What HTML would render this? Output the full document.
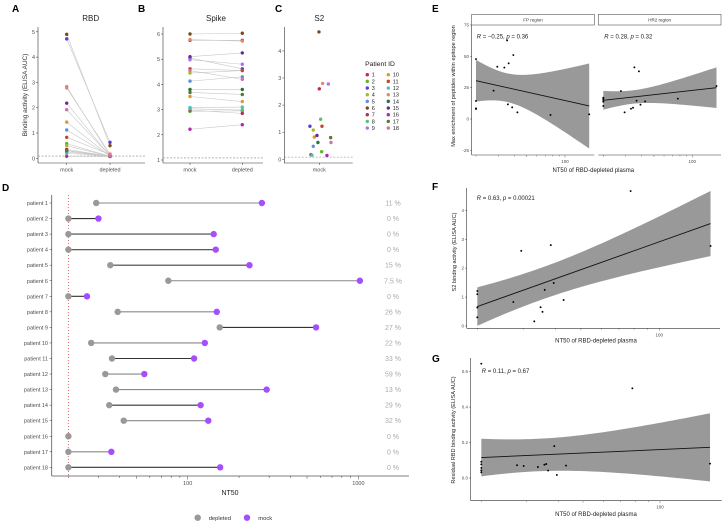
<!DOCTYPE html>
<html><head><meta charset="utf-8"><style>
body{margin:0;background:#fff}
svg{display:block;font-family:"Liberation Sans",sans-serif}
</style></head><body>
<svg id="fig" width="724" height="524" viewBox="0 0 724 524"></svg>
<script>
// ---------- DATA ----------
const patients=["1","2","3","4","5","6","7","8","9","10","11","12","13","14","15","16","17","18"];
const pColors=["#cc2255","#66b032","#5a3fd6","#a8b82a","#5b8fdf","#7a4a1a","#b0305a","#5cc06a","#b070f0","#d99a2a","#c0462a","#4fc0b0","#e08a6a","#2f6f3f","#6a2a90","#b02ab0","#5a7a2a","#d070b0"];
const rbdMock=[0.3,0.58,4.72,0.5,1.12,4.9,0.35,0.25,2.83,1.43,0.83,0.2,2.78,0.3,2.18,0.08,0.3,1.92];
const rbdDep=[0.08,0.08,0.63,0.08,0.1,0.5,0.08,0.08,0.1,0.08,0.15,0.08,0.17,0.08,0.08,0.07,0.08,0.1];
const spikeMock=[5.75,2.93,5.05,4.45,4.13,6.0,2.98,3.03,4.98,3.52,4.62,3.08,5.78,3.8,5.1,2.22,3.68,4.55];
const spikeDep=[5.75,2.95,4.62,4.55,4.3,6.03,2.85,2.98,4.8,3.32,4.55,3.1,5.72,3.8,5.25,2.4,3.6,4.2];
const s2Vals=[2.6,0.28,1.22,1.08,0.48,4.7,0.17,1.48,2.78,0.82,1.22,0.15,2.8,0.62,0.88,0.14,0.8,0.62];
const s2Jitter=[0,0.034,-0.137,-0.088,-0.088,-0.005,-0.122,0.02,0.132,-0.073,0.039,-0.107,0.049,-0.02,-0.034,0.112,0.166,0.171];
const aTicks=[0,1,2,3,4,5];
const bTicks=[1,2,3,4,5,6];
const cTicks=[0,1,2,3,4];
const ntDep=[29.1,20,20,20,35.2,77,20,38.9,154,27.2,36,32.9,38,34.7,42.2,20,20,20];
const ntMock=[272,30,142,146,230,1020,25.7,148,565,126,109,55.7,290,119,132,null,35.7,155];
const pctLabels=["11 %","0 %","0 %","0 %","15 %","7.5 %","0 %","26 %","27 %","22 %","33 %","59 %","13 %","29 %","32 %","0 %","0 %","0 %"];
const fpX=[20,20,20,20,27.5,29.4,33.4,35.1,36.1,39.3,35.6,38.5,42.3,77,155];
const fpY=[47.8,14.4,8.5,8,22.6,41.7,41,62.7,44.4,51,11.7,9.3,5.3,3.2,3.7];
const hrX=[20,20,20,20,20,27.5,29.4,35.1,38.1,36.5,33,34.2,39.2,42.6,77,155];
const hrY=[10.4,16.2,17,15.2,13.8,22.3,5.3,41.2,38,14.6,8.2,9.0,11.4,14.1,16.2,26.3];
const eTicks=[75,50,25,0,-25];
const fX=[20,20,20,20,27.5,29.5,38.3,39.3,36.3,35,35.6,33.1,42.9,77.6,157.3];
const fY=[1.21,1.1,0.64,0.3,0.83,2.6,2.8,1.49,1.25,0.65,0.49,0.16,0.9,4.67,2.77];
const fTicks=[0,1,2,3,4];
const gX=[20,20,20,20,20,20,27.6,29.3,33.3,35.3,35.9,36.5,38.6,39.5,42.9,78,157];
const gY=[0.645,0.092,0.077,0.057,0.043,0.032,0.072,0.068,0.062,0.075,0.079,0.042,0.18,0.017,0.07,0.506,0.081];
const gTicks=[0,0.2,0.4,0.6];

// ---------- HELPERS ----------
const NS="http://www.w3.org/2000/svg";
const svg=document.getElementById('fig');
function mk(tag,attrs,parent){const e=document.createElementNS(NS,tag);for(const k in attrs)e.setAttribute(k,attrs[k]);(parent||svg).appendChild(e);return e;}
function txt(x,y,s,size,anchor,fill,parent,extra){const t=mk('text',Object.assign({x:x,y:y,'font-size':size,'text-anchor':anchor||'start',fill:fill||'#333'},extra||{}),parent);t.textContent=s;return t;}
function grp(parent){return mk('g',{},parent);}
function line(x1,y1,x2,y2,stroke,w,parent,dash){const a={x1:x1,y1:y1,x2:x2,y2:y2,stroke:stroke,'stroke-width':w};if(dash)a['stroke-dasharray']=dash;return mk('line',a,parent);}
const L10=Math.log10;

// ---------- PANELS A-C ----------
function pairPanel(name,letter,lx,title,tx,axX,axR,yFn,ticks,xM,xD,mock,dep,dashV){
  const g=grp();
  
  
  const lt=txt(lx,12,letter,10,'start','#000',g,{'font-weight':'bold'});
  
  
  const tt=txt(tx,21,title,8,'middle','#222',g);
  
  
  line(axX,27,axX,163,'#333',0.6,g);
  line(axX,163,axR,163,'#333',0.6,g);
  ticks.forEach(v=>{line(axX-2,yFn(v),axX,yFn(v),'#333',0.5,g);
    const l=txt(axX-3,yFn(v)+2,String(v),5.5,'end','#4d4d4d',g);
    
    });
  line(axX,yFn(dashV),axR,yFn(dashV),'#888',0.6,g,'2,1.5');
  [[xM,'mock'],[xD,'depleted']].forEach(([x,s])=>{if(x==null)return;line(x,163,x,165,'#333',0.5,g);
    const l=txt(x,171.5,s,5.5,'middle','#4d4d4d',g);
    
    });
  if(dep){mock.forEach((v,i)=>{const ln=line(xM,yFn(v),xD,yFn(dep[i]),'#c8c8c8',0.6,g);
    
    });}
  mock.forEach((v,i)=>{const c=mk('circle',{cx:xM,cy:yFn(v),r:1.7,fill:pColors[i]},g);
    
    
    if(dep){const d=mk('circle',{cx:xD,cy:yFn(dep[i]),r:1.7,fill:pColors[i]},g);
    
    }});
  return g;
}
const aY=v=>158.3-v*25.3;
pairPanel('panel-a-rbd','A',12,'RBD',90.7,38,145,aY,aTicks,66.7,110,rbdMock,rbdDep,0.09);
const at=txt(0,0,'Binding activity (ELISA AUC)',6.5,'middle','#333',svg,{transform:'translate(27,95) rotate(-90)'});


const bY=v=>160-(v-1)*25.2;
pairPanel('panel-b-spike','B',138,'Spike',216,163,263,bY,bTicks,190,242.3,spikeMock,spikeDep,1.08);
const cY=v=>159.3-v*27.1;
const gc=pairPanel('panel-c-s2','C',275,'S2',319.3,284.3,352.7,cY,cTicks,319.3,null,[],null,0.08);
s2Vals.forEach((v,i)=>{const c=mk('circle',{cx:319.3+s2Jitter[i]*68.4,cy:cY(v),r:1.7,fill:pColors[i]},gc);
  
  });
const lg=grp();


const lgT=txt(380,66,'Patient ID',6.8,'middle','#222',lg);


patients.forEach((p,i)=>{const col=i<9?0:1,row=i%9;const cx=367.3+col*21,cy=74.7+row*6.67;
  const c=mk('circle',{cx:cx,cy:cy,r:1.7,fill:pColors[i]},lg);
  
  
  const t=txt(cx+4.5,cy+2,p,5.5,'start','#222',lg);
  
  });

// ---------- PANEL D ----------
const gd=grp();


const dl=txt(2,191,'D',10,'start','#000',gd,{'font-weight':'bold'});


const dX=v=>187.7+170.7*L10(v/100);
const dY=i=>203+i*15.55;
line(51.7,195,51.7,476,'#555',0.8,gd);
line(51.7,476,409,476,'#555',0.8,gd);
[20,30,40,50,60,70,80,90,100,200,300,400,500,600,700,800,900,1000].forEach(v=>{
  const m=Math.round(v/Math.pow(10,Math.floor(L10(v)+1e-9)));const len=m===1?3.5:(m===5?2.8:2);
  line(dX(v),476,dX(v),476+len,'#444',0.5,gd);});
[100,1000].forEach(v=>{const t=txt(dX(v),485,String(v),5.5,'middle','#4d4d4d',gd);
  
  });
const dxt=txt(230,495,'NT50',7,'middle','#222',gd);


const lod=line(dX(20),195,dX(20),476,'#e05a5a',0.9,gd,'1,2');


const segShade=['#888','#333','#444','#444','#444','#888','#333','#888','#333','#888','#333','#888','#888','#333','#888','#888','#888','#333'];
patients.forEach((p,i)=>{const y=dY(i);
  line(49.5,y,51.7,y,'#444',0.5,gd);
  const pl=txt(48,y+2,'patient '+p,5.5,'end','#4d4d4d',gd);
  
  
  if(ntMock[i]!=null){const s=line(dX(ntDep[i]),y,dX(ntMock[i]),y,segShade[i],1.1,gd);
    
    }
  const c1=mk('circle',{cx:dX(ntDep[i]),cy:y,r:3.2,fill:'#999'},gd);
  
  
  if(ntMock[i]!=null){const c2=mk('circle',{cx:dX(ntMock[i]),cy:y,r:3.2,fill:'#a64dff'},gd);
    
    }
  const pc=txt(393,y+2.5,pctLabels[i],7,'middle','#aaa',gd);
  
  });
const ld1=mk('circle',{cx:197.7,cy:517.7,r:3.2,fill:'#999'},gd);


const ldt1=txt(208.7,520,'depleted',5.8,'start','#333',gd);


const ld2=mk('circle',{cx:247,cy:517.7,r:3.2,fill:'#a64dff'},gd);


const ldt2=txt(258.3,520,'mock',5.8,'start','#333',gd);



// ---------- REGRESSION SCATTER ----------
function tq(df){return 1.96+2.4/df;}
function regPanel(g,xs,ys,xFn,yFn,k2){
  const lx=xs.map(L10),n=xs.length;
  const mx=lx.reduce((a,b)=>a+b)/n,my=ys.reduce((a,b)=>a+b)/n;
  let sxx=0,sxy=0;lx.forEach((x,i)=>{sxx+=(x-mx)**2;sxy+=(x-mx)*(ys[i]-my);});
  const b=sxy/sxx,a=my-b*mx;let sse=0;lx.forEach((x,i)=>{sse+=(ys[i]-a-b*x)**2;});
  const s=Math.sqrt(sse/(n-2)),t=tq(n-2);
  const lo=Math.min(...lx),hi=Math.max(...lx);const up=[],dn=[];
  for(let k=0;k<=60;k++){const x=lo+(hi-lo)*k/60;const f=a+b*x;const se=s*Math.sqrt(1/n+k2*(x-mx)**2/sxx);
    up.push(xFn(10**x)+','+yFn(f+t*se));dn.unshift(xFn(10**x)+','+yFn(f-t*se));}
  const band=mk('polygon',{points:up.concat(dn).join(' '),fill:'#999'},g);
  
  
  const fl=line(xFn(10**lo),yFn(a+b*lo),xFn(10**hi),yFn(a+b*hi),'#111',0.9,g);
  
  
  xs.forEach((x,i)=>{const c=mk('circle',{cx:xFn(x),cy:yFn(ys[i]),r:0.95,fill:'#000'},g);
    
    });
}
function logTicks(g,xFn,y,from,to){[20,30,40,50,60,70,80,90,100,200].forEach(v=>{if(v<from||v>to)return;
  const len=v===100?2.5:(v===50?2:1.4);line(xFn(v),y,xFn(v),y+len,'#444',0.4,g);});
  const t=txt(xFn(100),y+8,'100',4.5,'middle','#4d4d4d',g);
  
  }
function rText(g,x,y,r,p){const t=mk('text',{x:x,y:y,'font-size':6,fill:'#222'},g);
  
  
  t.innerHTML='<tspan font-style="italic">R</tspan> = '+r+', <tspan font-style="italic">p</tspan> = '+p;}

// Panel E
const ge=grp();


const el=txt(432,12,'E',10,'start','#000',ge,{'font-weight':'bold'});


const eY=v=>119-1.254*v;
const eX1=v=>476+127.3*L10(v/20), eX2=v=>603.3+127.3*L10(v/20);
[['FP region',471.7,594.3],['HR2 region',598.3,721]].forEach(([s,x1,x2])=>{
  const r=mk('rect',{x:x1,y:14.3,width:x2-x1,height:10.7,fill:'#fff',stroke:'#555','stroke-width':0.6},ge);
  
  
  const t=txt((x1+x2)/2,21.5,s,4.5,'middle','#333',ge);
  
  });
line(471.7,25,471.7,155,'#333',0.6,ge);
line(471.7,155,594.3,155,'#333',0.6,ge);
line(598.3,155,721,155,'#333',0.6,ge);
eTicks.forEach(v=>{line(470,eY(v),471.7,eY(v),'#333',0.4,ge);
  const t=txt(469,eY(v)+1.5,String(v),4.5,'end','#4d4d4d',ge);
  
  });
regPanel(ge,fpX,fpY,eX1,eY,1);
regPanel(ge,hrX,hrY,eX2,eY,1);
logTicks(ge,eX1,155,20,200);
logTicks(ge,eX2,155,20,200);
rText(ge,476.7,38.5,'\u22120.25','0.36');
rText(ge,604.3,38.5,'0.28','0.32');
const ext=txt(593.3,172,'NT50 of RBD-depleted plasma',6,'middle','#222',ge);


const eyt=txt(0,0,'Max enrichment of peptides within epitope region',5.6,'middle','#222',ge,{transform:'translate(455,86) rotate(-90)'});



// Panel F
const gf=grp();


const fl=txt(432,190,'F',10,'start','#000',gf,{'font-weight':'bold'});


const fYf=v=>326-28.9*v, fXf=v=>477.3+260.4*L10(v/20);
line(466.7,188,466.7,328.3,'#333',0.6,gf);
line(466.7,328.3,720,328.3,'#333',0.6,gf);
fTicks.forEach(v=>{line(465,fYf(v),466.7,fYf(v),'#333',0.4,gf);
  const t=txt(464,fYf(v)+1.5,String(v),4.5,'end','#4d4d4d',gf);
  
  });
regPanel(gf,fX,fY,fXf,fYf,0.4);
logTicks(gf,fXf,328.3,20,200);
rText(gf,476.7,200,'0.63','0.00021');
const fxt=txt(596,342.5,'NT50 of RBD-depleted plasma',6,'middle','#222',gf);


const fyt=txt(0,0,'S2 binding activity (ELISA AUC)',5.6,'middle','#222',gf,{transform:'translate(456,252) rotate(-90)'});



// Panel G
const gg=grp();


const gl=txt(432,362,'G',10,'start','#000',gg,{'font-weight':'bold'});


const gYf=v=>478-177.3*v, gXf=v=>481.3+255.6*L10(v/20);
line(470.7,358,470.7,500.7,'#333',0.6,gg);
line(470.7,500.7,721.7,500.7,'#333',0.6,gg);
gTicks.forEach(v=>{line(469,gYf(v),470.7,gYf(v),'#333',0.4,gg);
  const t=txt(468,gYf(v)+1.5,v.toFixed(1),4.5,'end','#4d4d4d',gg);
  
  });
regPanel(gg,gX,gY,gXf,gYf,0.4);
logTicks(gg,gXf,500.7,20,200);
rText(gg,481.7,373,'0.11','0.67');
const gxt=txt(596,516,'NT50 of RBD-depleted plasma',6,'middle','#222',gg);


const gyt=txt(0,0,'Residual RBD binding activity (ELISA AUC)',5.6,'middle','#222',gg,{transform:'translate(455,430) rotate(-90)'});


</script>
</body></html>
